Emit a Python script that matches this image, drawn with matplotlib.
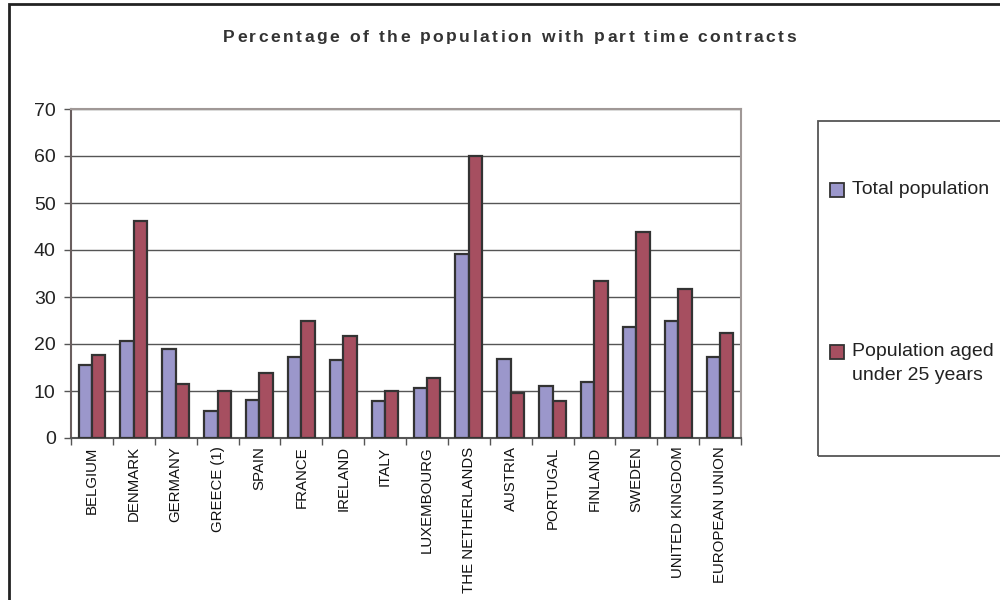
import matplotlib
matplotlib.use("Agg")
import matplotlib.pyplot as plt
from matplotlib.patches import Rectangle
import numpy as np

countries = ["BELGIUM", "DENMARK", "GERMANY", "GREECE (1)", "SPAIN", "FRANCE",
             "IRELAND", "ITALY", "LUXEMBOURG", "THE NETHERLANDS", "AUSTRIA",
             "PORTUGAL", "FINLAND", "SWEDEN", "UNITED KINGDOM", "EUROPEAN UNION"]
total_population = [15.6, 20.6, 18.9, 5.7, 8.1, 17.2, 16.5, 7.8, 10.7, 39.2,
                    16.9, 11.1, 12.0, 23.6, 24.8, 17.3]
under_25 = [17.7, 46.2, 11.5, 9.9, 13.9, 24.8, 21.8, 9.9, 12.8, 60.0,
            9.5, 7.8, 33.5, 43.8, 31.8, 22.3]

yticks = [0, 10, 20, 30, 40, 50, 60, 70]
title = "Percentage of the population with part time contracts"
series_names = ["Total population", "Population aged\nunder 25 years"]

plt.rcParams["font.family"] = ["Liberation Sans", "DejaVu Sans"]

fig = plt.figure(figsize=(10, 6), dpi=100)
fig.patch.set_facecolor("white")

# outer chart border (runs off the right and bottom edges)
fig.add_artist(Rectangle((0.009, -0.05), 1.2, 1.043, transform=fig.transFigure,
                         fill=False, edgecolor="#222222", linewidth=2.0))

ax = fig.add_axes([0.071, 1 - 438 / 600, 0.670, (438 - 109) / 600])

x = np.arange(len(countries))
w = 0.32
blue = "#9B97CB"
red = "#A64F60"
edge = "#333333"
ax.bar(x - w / 2, total_population, width=w, color=blue, edgecolor=edge,
       linewidth=1.6, zorder=3, label=series_names[0])
ax.bar(x + w / 2, under_25, width=w, color=red, edgecolor=edge,
       linewidth=1.6, zorder=3, label=series_names[1])

ax.set_xlim(-0.5, len(countries) - 0.5)
ax.set_ylim(0, 70)
ax.set_yticks(yticks)
ax.set_yticklabels([str(v) for v in yticks], fontsize=14, color="#222222")
ax.yaxis.grid(True, color="#555555", linewidth=1.0, zorder=0)
ax.set_axisbelow(True)

ax.set_xticks(x)
ax.set_xticklabels(countries, rotation=90, fontsize=10.8, color="#111111")
ax.tick_params(axis="x", length=0, pad=6)
ax.set_xticks(np.arange(-0.5, len(countries), 1.0), minor=True)
ax.tick_params(axis="x", which="minor", length=5, width=1.0, color="#555555",
               direction="out")
ax.tick_params(axis="y", length=5, width=1.0, color="#555555", direction="out",
               pad=6)

for side in ("top", "right"):
    ax.spines[side].set_color("#A09896")
    ax.spines[side].set_linewidth(1.5)
ax.spines["left"].set_color("#6A5F5F")
ax.spines["left"].set_linewidth(1.5)
ax.spines["bottom"].set_color("#555555")
ax.spines["bottom"].set_linewidth(1.5)


def tracked_text(fig, xc, yc, s, tracking_px, **kw):
    """Draw a centred line of text with extra spacing between characters."""
    renderer = fig.canvas.get_renderer()
    probe = fig.text(0, 0, "", **kw)

    def width(t):
        probe.set_text(t + "|")
        w_full = probe.get_window_extent(renderer).width
        probe.set_text("|")
        return w_full - probe.get_window_extent(renderer).width

    offsets = [width(s[:i]) + i * tracking_px for i in range(len(s))]
    total = width(s) + (len(s) - 1) * tracking_px
    probe.remove()
    W, H = fig.get_size_inches() * fig.dpi
    x0 = xc * W - total / 2
    for ch, off in zip(s, offsets):
        if ch != " ":
            fig.text((x0 + off) / W, yc, ch, ha="left", va="center", **kw)


tracked_text(fig, 0.5095, 1 - 37 / 600, title, 2.5,
             fontsize=12.6, fontweight="bold", color="#333333")

# legend panel
fig.add_artist(Rectangle((0.818, 1 - 456 / 600), 0.3, (456 - 121) / 600,
                         transform=fig.transFigure, fill=False,
                         edgecolor="#555555", linewidth=1.3))
legend_y = [190, 352]
line_step = 23
for name, col, yy in zip(series_names, [blue, red], legend_y):
    fig.add_artist(Rectangle((0.8295, 1 - (yy + 7) / 600), 0.0145, 14 / 600,
                             transform=fig.transFigure, facecolor=col,
                             edgecolor=edge, linewidth=1.3))
    for k, line in enumerate(name.split("\n")):
        fig.text(0.852, 1 - (yy + k * line_step) / 600, line, ha="left",
                 va="center", fontsize=14, color="#222222")

fig.savefig("out.png", dpi=100, facecolor="white")
